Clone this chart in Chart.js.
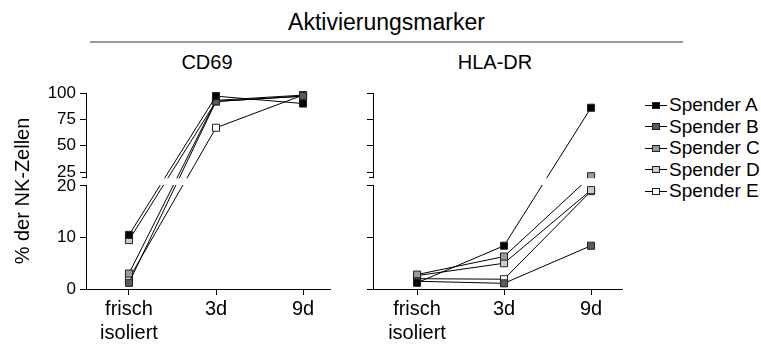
<!DOCTYPE html>
<html>
<head>
<meta charset="utf-8">
<script src="https://cdn.jsdelivr.net/npm/chart.js@4.4.1/dist/chart.umd.min.js"></script>
<style>
  body { margin:0; background:#fff; width:761px; height:345px; position:relative; overflow:hidden;
         font-family:"Liberation Sans", Arial, sans-serif; color:#000; }
  #title { position:absolute; left:90px; width:593px; top:9px; text-align:center; font-size:23px; }
  #rule { position:absolute; left:90px; width:593px; top:41px; height:2px; background:#999; }
  .panel { position:absolute; top:51px; width:160px; text-align:center; font-size:20px; }
  canvas.chart { position:absolute; top:0; }
  #legend { position:absolute; left:645px; top:94px; font-size:19px; }
  #legend div { height:21.5px; line-height:21.5px; white-space:nowrap; }
  #legend canvas { vertical-align:middle; margin-right:2px; position:relative; top:-1px; }
</style>
</head>
<body>
<div id="title">Aktivierungsmarker</div>
<div id="rule"></div>
<div class="panel" style="left:127px">CD69</div>
<div class="panel" style="left:415px">HLA-DR</div>
<canvas class="chart" id="cd69" width="340" height="345" style="left:0"></canvas>
<canvas class="chart" id="hladr" width="300" height="345" style="left:340px"></canvas>
<div id="legend"></div>

<script>
// Kategorien und Spender
const days = ["frisch isoliert", "3d", "9d"];
const donors = ["Spender A", "Spender B", "Spender C", "Spender D", "Spender E"];
const fills = ["#000000", "#5a5a5a", "#9a9a9a", "#cccccc", "#ffffff"];
const yTicks = [0, 10, 20, 25, 50, 75, 100];

// CD69 (% der NK-Zellen)
const cd69A = [10.5, 97, 90];
const cd69B = [1.2, 92, 97];
const cd69C = [3.0, 93, 98];
const cd69D = [9.5, 92, 97];
const cd69E = [2.0, 67, 98];

// HLA-DR (% der NK-Zellen)
const hlaA = [1.2, 8.4, 86];
const hlaB = [1.5, 1.1, 8.4];
const hlaC = [2.8, 6.3, 21];
const hlaD = [2.6, 5.0, 19.2];
const hlaE = [2.0, 1.9, 19.0];

// Achsenbruch: unten 0-20, oben 20-100 gestaucht
const BREAK_AT = 20, GAP = 1.69, UPPER_SCALE = 0.2045;
function squeeze(v) { return v <= BREAK_AT ? v : BREAK_AT + GAP + (v - BREAK_AT) * UPPER_SCALE; }
function unsqueeze(d) {
  if (d <= BREAK_AT) return d;
  return BREAK_AT + Math.max(0, d - BREAK_AT - GAP) / UPPER_SCALE;
}

class BrokenScale extends Chart.LinearScale {
  getPixelForValue(v) {
    if (v === null || v === undefined) return NaN;
    const lo = squeeze(this.min), hi = squeeze(this.max);
    return this.getPixelForDecimal((squeeze(v) - lo) / (hi - lo));
  }
  getValueForPixel(p) {
    const lo = squeeze(this.min), hi = squeeze(this.max);
    return unsqueeze(lo + this.getDecimalForPixel(p) * (hi - lo));
  }
}
BrokenScale.id = "broken";
BrokenScale.defaults = Chart.LinearScale.defaults;
Chart.register(BrokenScale);

// weisser Spalt ueber Linien und Achse am Bruch
const breakPlugin = {
  id: "axisBreak",
  afterDraw(chart) {
    const a = chart.chartArea, y = chart.scales.y, ctx = chart.ctx;
    const yLow = y.getPixelForValue(BREAK_AT);
    const yUp = y.getPixelForDecimal((BREAK_AT + GAP) / squeeze(y.max));
    ctx.save();
    ctx.fillStyle = "#fff";
    ctx.fillRect(a.left - 1, yUp + 1, a.right - a.left + 2, yLow - yUp - 2);
    ctx.strokeStyle = "#000";
    ctx.lineWidth = 1;
    ctx.beginPath();
    ctx.moveTo(a.left - 4, Math.round(yUp) + 0.5);
    ctx.lineTo(a.left + 0.5, Math.round(yUp) + 0.5);
    ctx.stroke();
    ctx.restore();
  }
};

const xFont = { family: "Liberation Sans", size: 20, lineHeight: 1.2 };
const yFont = { family: "Liberation Sans", size: 17 };

function makePanel(id, series, showLabels, xMin, xMax, yWidth, padRight) {
  return new Chart(document.getElementById(id), {
    type: "line",
    data: {
      datasets: series.map((vals, i) => ({
        label: donors[i],
        data: vals.map((v, j) => ({ x: j, y: v })),
        borderColor: "#000",
        borderWidth: 1,
        pointStyle: "rect",
        pointRadius: 5,
        pointBackgroundColor: fills[i],
        pointBorderColor: "#222",
        pointBorderWidth: 1,
        clip: false
      }))
    },
    options: {
      responsive: false,
      animation: false,
      events: [],
      layout: { padding: { top: 93, right: padRight, left: 0, bottom: 0 } },
      plugins: { legend: { display: false }, tooltip: { enabled: false } },
      scales: {
        x: {
          type: "linear", min: xMin, max: xMax,
          afterBuildTicks: s => { s.ticks = days.map((d, j) => ({ value: j })); },
          afterFit: s => { s.height = 56; },
          ticks: {
            callback: v => days[v].split(" "),
            font: xFont, color: "#000", padding: 2, maxRotation: 0, autoSkip: false
          },
          grid: { drawOnChartArea: false, drawTicks: true, tickLength: 6, color: "#000" },
          border: { color: "#000", width: 1 }
        },
        y: {
          type: "broken", min: 0, max: 100,
          afterBuildTicks: s => { s.ticks = yTicks.map(v => ({ value: v })); },
          afterFit: s => { s.width = yWidth; },
          ticks: {
            callback: v => showLabels ? String(v) : "",
            font: yFont, color: "#000", padding: 4, autoSkip: false
          },
          grid: { drawOnChartArea: false, drawTicks: true, tickLength: 6, color: "#000" },
          border: { color: "#000", width: 1 },
          title: {
            display: showLabels, text: "% der NK-Zellen", color: "#000",
            font: { family: "Liberation Sans", size: 20 }, padding: { top: 11, bottom: 0 }
          }
        }
      }
    },
    plugins: [breakPlugin]
  });
}

makePanel("cd69", [cd69A, cd69B, cd69C, cd69D, cd69E], true, -0.494, 2.31, 86, 10);
makePanel("hladr", [hlaA, hlaB, hlaC, hlaD, hlaE], false, -0.506, 2.356, 33, 18);

// Legende
const legend = document.getElementById("legend");
donors.forEach((name, i) => {
  const row = document.createElement("div");
  const icon = document.createElement("canvas");
  icon.width = 22; icon.height = 10;
  const c = icon.getContext("2d");
  c.strokeStyle = "#000"; c.lineWidth = 1;
  c.beginPath(); c.moveTo(0, 5.5); c.lineTo(22, 5.5); c.stroke();
  c.fillStyle = fills[i]; c.fillRect(7.5, 2.5, 7, 6);
  c.strokeStyle = "#222"; c.strokeRect(7.5, 2.5, 7, 6);
  row.appendChild(icon);
  row.appendChild(document.createTextNode(name));
  legend.appendChild(row);
});
</script>
</body>
</html>
